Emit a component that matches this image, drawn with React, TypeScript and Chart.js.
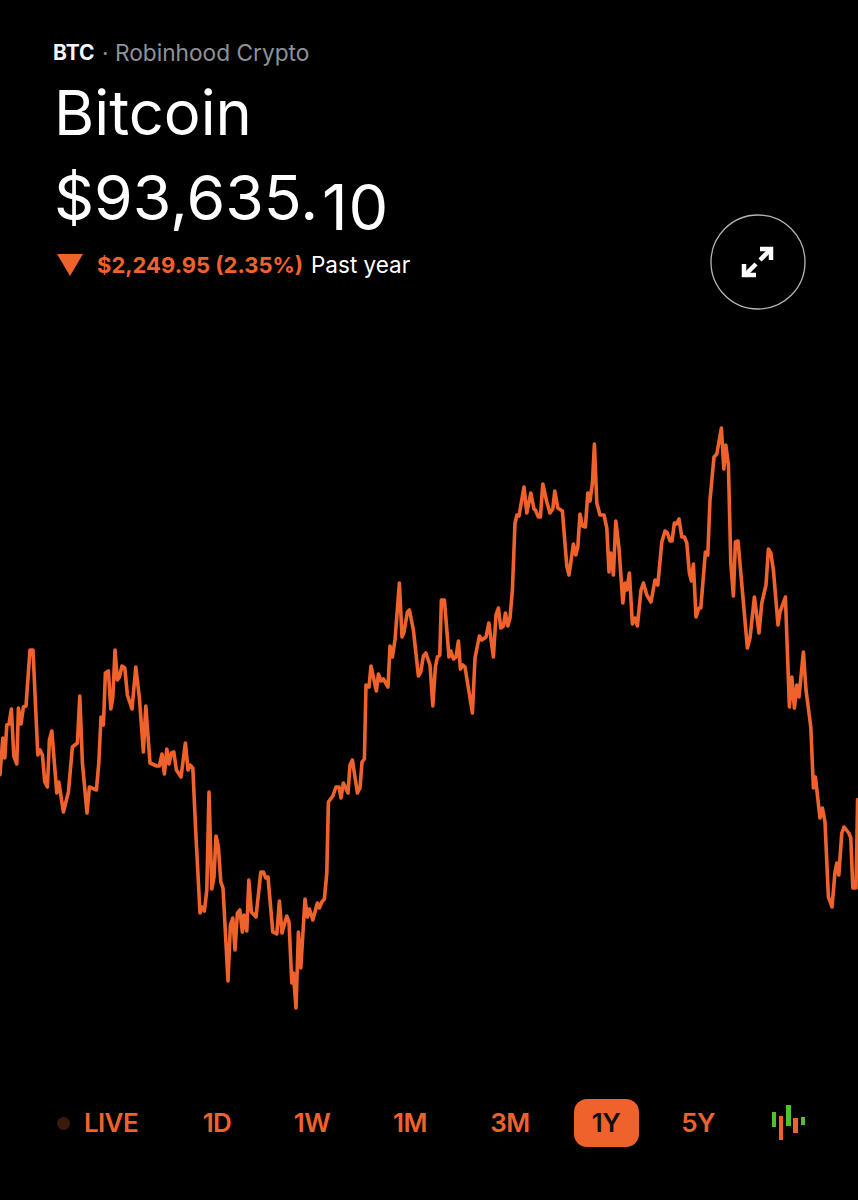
import React, { useEffect, useRef } from "react";
import { Chart, registerables } from "chart.js";

Chart.register(...registerables);

const sessions = [
  0,1.4,2.4,3.4,4.5,5.7,6.9,8.4,9.2,10.5,11.7,13,15,16.5,18.9,20,21.2,22.4,23.7,24.7,25.9,28.4,29.4,31.7,34.2,36.2,38.7,39.9,41.2,43.5,
  44.7,48.2,49.4,50.5,51.7,52.7,54.2,55.4,56.4,57.5,58.7,59.7,61,62.4,63.7,66,67.9,69.7,71.7,72.9,75,78.4,79.7,81,82.2,83.4,84.5,85.7,86.9,88.2,
  90.5,92.7,94,95,96.4,97.9,100,100.9,102.2,103.4,104.5,105.9,107,108,109.2,110.4,111.5,114,115.2,116.4,117.5,118.7,119.9,121.2,122,123.4,124.4,125.7,128,130.4,
  131.7,132.9,134,136.4,138.4,139.7,141,143.4,144.5,145.9,146.7,148,149.2,150.4,152.5,153.7,154.7,156.4,158.7,159.7,160.9,162.2,163.4,164.2,166.4,168,169.5,170.5,171.7,174,
  175,176.2,178.7,180,181,182.2,183,184.5,185.5,188.2,189.2,190.5,191.7,194,195,196.2,197.5,199.7,201,202,203.7,204.7,206.7,209.2,210.4,211.7,212.9,215,216.4,217.7,
  218.7,219.9,220.7,222.2,224.5,225.4,226.7,228,229.2,230.2,231.4,232.5,236.2,237.5,239.7,240.9,243,244.4,246.7,248,249.2,250.4,251.7,252.7,253.9,255,256.2,257.5,258.5,259.5,
  262,263.4,265.4,267,267.7,269.2,270.2,271.4,273.4,275,276.4,277.4,278.9,281.2,283.4,284.5,286.7,287.9,288.9,290,291.2,292.7,293.9,295,296.2,297.2,298.4,300,302,303.4,
  304.5,305.4,306.7,307.9,309.5,311.4,312.5,313.4,314.7,316.2,317.5,318.7,320.5,321.7,323.4,325.5,327.5,328.9,330.9,332.5,333.7,335,336,337.2,338.4,339.5,340.9,342.2,343.4,344.7,
  345.7,346.7,348,349.5,350.4,352.7,353.9,355,357,358.4,360.7,361.9,362.9,364.2,365.4,366.7,367.7,369,373.7,375,377.2,379.5,380.9,383,384.2,385.4,386.7,389,390,392.7,
  394.7,395.9,397.2,398.4,399.5,401.7,403,405.4,406.7,407.7,410,411.2,412.5,414.2,416,417.5,418.4,419.4,420.9,422,424.4,425.4,426.4,428,428.8,
];

const prices = [
  95880,99180,97380,100350,100440,101790,97560,96840,101880,100440,101970,102060,107100,107100,97650,98100,97650,95220,94770,99000,99810,94230,95220,92520,94320,98370,98730,102960,96930,92430,
  94770,94500,96930,101070,100350,105030,105210,101790,102780,107100,104400,104670,105660,105480,103050,101790,105570,102780,97920,102060,96930,96660,96660,97740,95940,98190,96840,97830,97920,96300,
  95670,98730,96300,96750,96480,90630,83430,83970,83610,85500,94320,85590,86670,90360,89370,86220,85680,77310,82350,82980,80100,83430,83700,81720,83250,81810,86400,83520,83070,87120,
  87120,86580,86670,81720,81540,84510,81630,83160,82620,77130,78030,74880,81720,78480,84690,83070,83790,82800,84330,83880,84420,84690,87030,93420,93960,94770,94770,93780,95130,94230,
  96750,97200,94230,94680,97020,97290,103950,103770,105660,103410,104940,104310,104490,103770,107460,106470,108000,113130,108270,108720,110520,110700,108900,104760,105120,106560,106830,105750,102060,105570,
  106470,106650,111600,111600,106470,107010,106290,106470,107910,105390,105750,105570,101430,106380,108360,108000,108270,109530,106470,110250,110880,109080,109260,110430,109260,109980,112500,118530,119250,119160,
  121770,119430,121230,119790,119700,119070,119070,122040,120420,119430,119790,121410,119880,119610,114660,113850,116640,115650,116370,119340,118260,118170,121230,120510,122130,125640,120330,119250,119250,118080,
  114120,115830,113850,118710,116280,111330,113130,112500,114030,109440,109980,109260,112500,113130,112050,111420,113400,112950,116820,117810,117630,116910,116910,118530,118440,118890,117270,117270,116730,114030,
  113310,114840,110070,110880,110880,115920,115650,120600,124470,124740,127080,123390,125550,123750,114930,111960,116820,116910,107280,108180,111870,108630,111330,112950,116190,115830,114300,109350,110520,111870,
  101970,104670,101880,103950,102870,106920,103500,100170,94680,95670,91980,92880,91620,84870,83970,87120,87930,86850,90630,91170,90630,90180,85680,85680,93635,
];

const ranges = ["LIVE", "1D", "1W", "1M", "3M", "1Y", "5Y"];
const rangeCenters = [111, 217, 312, 410, 510, 606, 698];

const ORANGE = "#f0622c";
const FONT = "Inter, 'Noto Sans', sans-serif";

const text = (left: number, top: number, size: number, weight: number, color: string, extra: React.CSSProperties = {}): React.CSSProperties => ({
  position: "absolute", left, top, fontSize: size, fontWeight: weight, color, lineHeight: 1, whiteSpace: "pre", fontFamily: FONT, ...extra,
});

const bars = [
  { x: 771.5, y: 1112, h: 15, c: "#55bd32" },
  { x: 778.7, y: 1116, h: 24, c: ORANGE },
  { x: 786, y: 1105, h: 21, c: "#55bd32" },
  { x: 793, y: 1118, h: 15, c: ORANGE },
  { x: 800.5, y: 1117, h: 8, c: "#55bd32" },
];

export default function App() {
  const ref = useRef<HTMLCanvasElement>(null);
  useEffect(() => {
    document.body.style.background = "#000";
    const chart = new Chart(ref.current!, {
      type: "line",
      data: {
        datasets: [{
          data: sessions.map((x, i) => ({ x, y: prices[i] })),
          borderColor: ORANGE,
          borderWidth: 3.6,
          pointRadius: 0,
          tension: 0,
          borderJoinStyle: "round",
          borderCapStyle: "round",
        }],
      },
      options: {
        animation: false,
        responsive: false,
        layout: { padding: 0 },
        plugins: { legend: { display: false }, tooltip: { enabled: false } },
        scales: {
          x: { type: "linear", min: 0, max: 429, display: false },
          y: { type: "linear", min: 72000, max: 129600, display: false },
        },
      },
    });
    return () => chart.destroy();
  }, []);

  return (
    <div style={{ position: "absolute", left: 0, top: 0, width: 858, height: 1200, background: "#000", overflow: "hidden" }}>
      <canvas ref={ref} width={858} height={640} style={{ position: "absolute", left: 0, top: 400, width: 858, height: 640 }} />

      <div style={text(53, 42, 21, 700, "#f5f5f5")}>BTC</div>
      <div style={text(102, 41.5, 22.7, 400, "#8d9398")}>· Robinhood Crypto</div>
      <div style={text(54, 82, 61.5, 400, "#fff")}>Bitcoin</div>
      <div style={text(54, 166, 62.5, 400, "#fff")}>$93,635.</div>
      <div style={text(322, 176, 63, 400, "#fff", { letterSpacing: 1 })}>10</div>

      <svg width={30} height={26} style={{ position: "absolute", left: 55, top: 252 }}>
        <polygon points="2,2 28,2 15,24" fill={ORANGE} />
      </svg>
      <div style={text(97, 254, 22, 700, ORANGE)}>$2,249.95 (2.35%)</div>
      <div style={text(311, 254, 22.5, 400, "#fff")}>Past year</div>

      <svg width={100} height={100} style={{ position: "absolute", left: 708, top: 212 }}>
        <circle cx={50} cy={50} r={47} fill="none" stroke="#b5b5b5" strokeWidth={1.3} />
        <g stroke="#fff" strokeWidth={4.5} fill="none">
          <path d="M52 48 L62 38" />
          <path d="M52 37 H63 V48" />
          <path d="M48 52 L37 63" />
          <path d="M48 63 H36 V52" />
        </g>
      </svg>

      <div style={{ position: "absolute", left: 57, top: 1117, width: 13, height: 13, borderRadius: "50%", background: "#3b1a0c" }} />
      <div style={{ position: "absolute", left: 574, top: 1099, width: 65, height: 48, borderRadius: 13, background: ORANGE }} />
      {ranges.map((r, i) => (
        <div key={r} style={text(rangeCenters[i] - 50, 1110, 26, 600, r === "1Y" ? "#111" : ORANGE, { width: 100, textAlign: "center", letterSpacing: -0.6 })}>{r}</div>
      ))}
      {bars.map((b, i) => (
        <div key={i} style={{ position: "absolute", left: b.x, top: b.y, width: 4.5, height: b.h, background: b.c }} />
      ))}
    </div>
  );
}
